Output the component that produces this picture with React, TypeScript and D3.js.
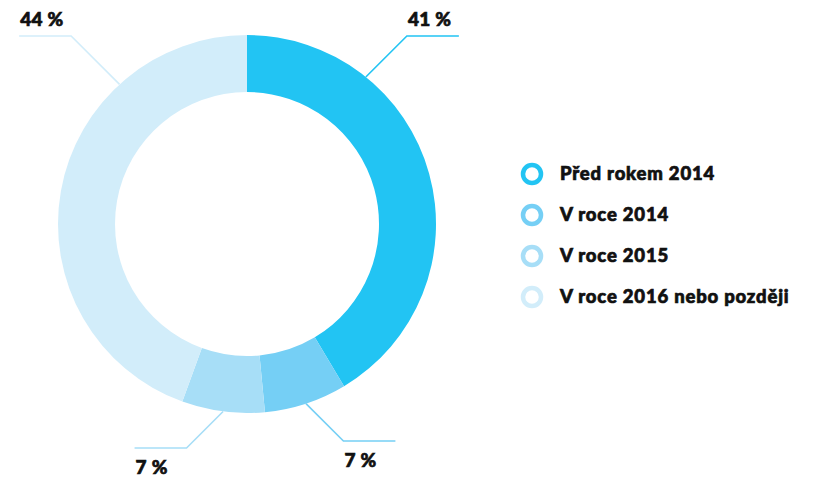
import React, { useRef, useEffect } from "react";
import * as d3 from "d3";

const categories = ["Před rokem 2014", "V roce 2014", "V roce 2015", "V roce 2016 nebo později"];
const values = [41, 7, 7, 44];
const valueLabels = ["41 %", "7 %", "7 %", "44 %"];
const colors = ["#22c4f3", "#75cff5", "#a7def7", "#d2edfa"];

const App = () => {
    const svgRef = useRef<SVGSVGElement>(null);

    useEffect(() => {
        const width = 814;
        const height = 477;
        const cx = 247;
        const cy = 224;
        const outer = 189;
        const inner = 132;
        const font = "Lato, 'Open Sans', sans-serif";

        const svg = d3.select(svgRef.current).attr("width", width).attr("height", height);
        svg.selectAll("*").remove();

        const g = svg.append("g").attr("transform", `translate(${cx}, ${cy})`);

        const pie = d3.pie<number>().sort(null).value((d) => d);
        const arcs = pie(values);
        const arc = d3.arc<d3.PieArcDatum<number>>().innerRadius(inner).outerRadius(outer);

        g.selectAll("path.slice")
            .data(arcs)
            .enter()
            .append("path")
            .attr("class", "slice")
            .attr("d", arc)
            .attr("fill", (d, i) => colors[i]);

        // leader lines: big slices hit the ring at a fixed angle, small ones at the middle
        const anchorAngle = (d: d3.PieArcDatum<number>, i: number) => {
            if (i === 0) return d.startAngle + 0.68;
            if (i === 3) return d.endAngle - 0.74;
            return (d.startAngle + d.endAngle) / 2;
        };
        const elbowY = [-188, 217, 224, -188]; // relative to center
        const segLen = 52;

        arcs.forEach((d, i) => {
            const a = anchorAngle(d, i);
            const sx = Math.sin(a) * outer;
            const sy = -Math.cos(a) * outer;
            const dirX = Math.sin(a) >= 0 ? 1 : -1;
            const dy = elbowY[i] - sy;
            const ex = sx + dirX * Math.abs(dy);
            const ey = elbowY[i];
            const hx = ex + dirX * segLen;
            g.append("polyline")
                .attr("points", `${sx},${sy} ${ex},${ey} ${hx},${ey}`)
                .attr("fill", "none")
                .attr("stroke", colors[i])
                .attr("stroke-width", 1.6);

            const top = ey < 0;
            g.append("text")
                .attr("x", Math.min(ex, hx) + 1)
                .attr("y", top ? ey - 10 : ey + 26)
                .attr("font-family", font)
                .attr("font-weight", 900)
                .attr("font-size", 19)
                .attr("letter-spacing", 0.3)
                .attr("fill", "#111")
                .attr("stroke", "#111")
                .attr("stroke-width", 0.7)
                .text(valueLabels[i]);
        });

        const legend = svg.append("g").attr("transform", "translate(532, 174)");
        const rows = legend
            .selectAll("g.row")
            .data(categories)
            .enter()
            .append("g")
            .attr("class", "row")
            .attr("transform", (d, i) => `translate(0, ${i * 41})`);

        rows.append("circle")
            .attr("r", 9)
            .attr("fill", "none")
            .attr("stroke", (d, i) => colors[i])
            .attr("stroke-width", 4.5);

        rows.append("text")
            .attr("x", 28)
            .attr("dy", "0.35em")
            .attr("font-family", font)
            .attr("font-weight", 900)
            .attr("font-size", 18.5)
            .attr("letter-spacing", 0.8)
            .attr("fill", "#111")
            .attr("stroke", "#111")
            .attr("stroke-width", 0.7)
            .text((d) => d);
    }, []);

    return (
        <div>
            <svg ref={svgRef} style={{ position: "absolute", left: 0, top: 0, display: "block" }}></svg>
        </div>
    );
};

export default App;
